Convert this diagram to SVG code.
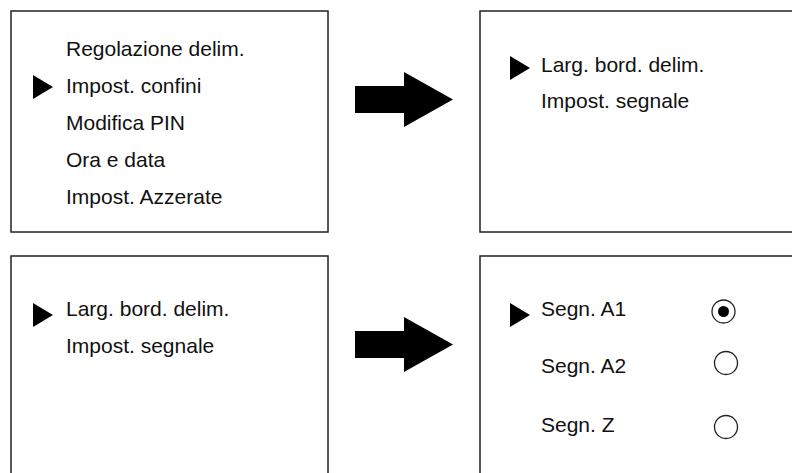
<svg xmlns="http://www.w3.org/2000/svg" width="792" height="473" viewBox="0 0 792 473">
<style>
.box{fill:#fff;stroke:#222;stroke-width:1.5}
.t{font-family:"Liberation Sans",Arial,Helvetica,sans-serif;font-size:21px;fill:#111}
.sel{fill:#000}
.arr{fill:#000}
.radio{fill:none;stroke:#222;stroke-width:1.3}
</style>
<rect width="792" height="473" fill="#fff"/>
<g id="screen-menu">
<rect class="box" x="11" y="11" width="317" height="221"/>
<text class="t" x="66" y="56">Regolazione delim.</text>
<polygon class="sel" points="33,75 53,87 33,99"/>
<text class="t" x="66" y="93">Impost. confini</text>
<text class="t" x="66" y="130">Modifica PIN</text>
<text class="t" x="66" y="167">Ora e data</text>
<text class="t" x="66" y="204">Impost. Azzerate</text>
</g>
<g id="screen-confini">
<rect class="box" x="480" y="11" width="330" height="221"/>
<polygon class="sel" points="510,56 530,68 510,80"/>
<text class="t" x="541" y="72">Larg. bord. delim.</text>
<text class="t" x="541" y="108">Impost. segnale</text>
</g>
<g id="screen-confini-2">
<rect class="box" x="11" y="256" width="317" height="240"/>
<polygon class="sel" points="33,303 53,315 33,327"/>
<text class="t" x="66" y="316">Larg. bord. delim.</text>
<text class="t" x="66" y="353">Impost. segnale</text>
</g>
<g id="screen-segnale">
<rect class="box" x="480" y="256" width="330" height="240"/>
<polygon class="sel" points="510,303 530,315 510,327"/>
<text class="t" x="541" y="316">Segn. A1</text>
<text class="t" x="541" y="373">Segn. A2</text>
<text class="t" x="541" y="432">Segn. Z</text>
<circle class="radio" cx="723.5" cy="311.5" r="11.5"/>
<circle cx="723.5" cy="311.5" r="5.5" fill="#000"/>
<circle class="radio" cx="726" cy="363" r="11.5"/>
<circle class="radio" cx="726" cy="427" r="11.5"/>
</g>
<g id="connectors">
<polygon class="arr" points="355,86 404,86 404,72 453,99.5 404,127 404,113 355,113"/>
<polygon class="arr" transform="translate(0,245)" points="355,86 404,86 404,72 453,99.5 404,127 404,113 355,113"/>
</g>
</svg>
